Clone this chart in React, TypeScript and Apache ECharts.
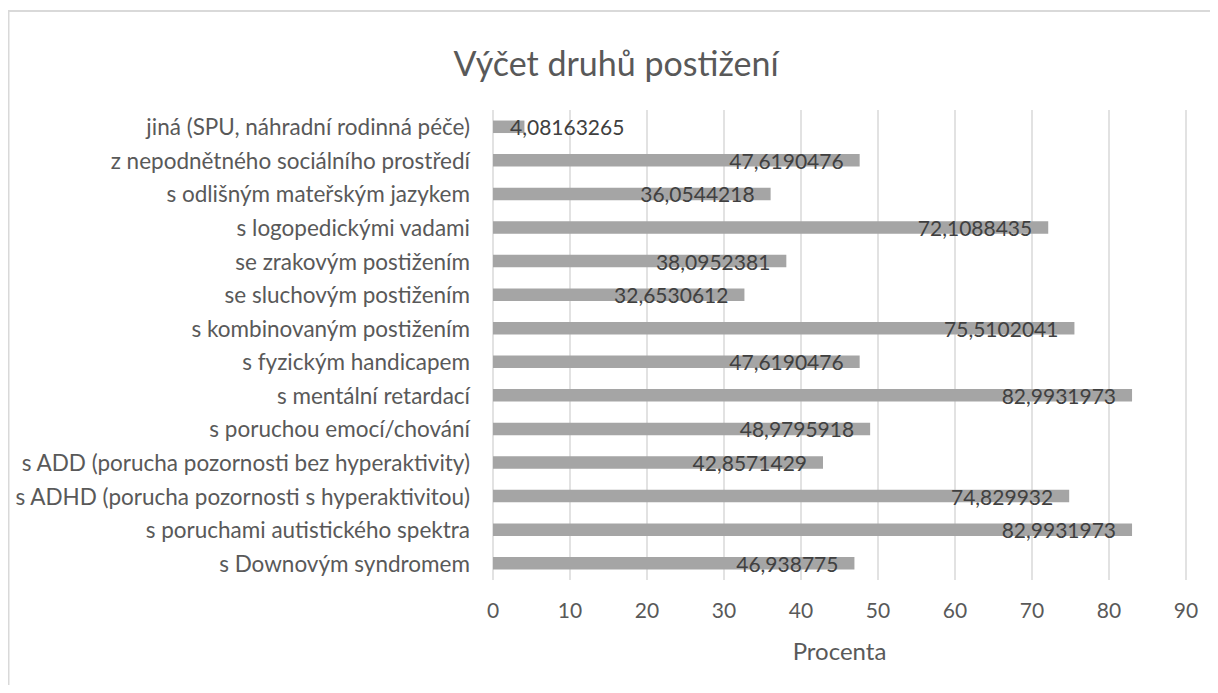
import React, { useEffect, useRef } from "react";
import * as echarts from "echarts";

const categories = [
  "s Downovým syndromem",
  "s poruchami autistického spektra",
  "s ADHD (porucha pozornosti s hyperaktivitou)",
  "s ADD (porucha pozornosti bez hyperaktivity)",
  "s poruchou emocí/chování",
  "s mentální retardací",
  "s fyzickým handicapem",
  "s kombinovaným postižením",
  "se sluchovým postižením",
  "se zrakovým postižením",
  "s logopedickými vadami",
  "s odlišným mateřským jazykem",
  "z nepodnětného sociálního prostředí",
  "jiná (SPU, náhradní rodinná péče)",
];

const values = [
  46.938775, 82.9931973, 74.829932, 42.8571429, 48.9795918, 82.9931973,
  47.6190476, 75.5102041, 32.6530612, 38.0952381, 72.1088435, 36.0544218,
  47.6190476, 4.08163265,
];

const titleText = "Výčet druhů postižení";
const axisName = "Procenta";
const xMin = 0;
const xMax = 90;
const xInterval = 10;

const FONT = "Lato";

export default function App() {
  const ref = useRef<HTMLDivElement>(null);

  useEffect(() => {
    if (!ref.current) return;
    const chart = echarts.init(ref.current, undefined, { renderer: "svg" });
    const fmt = (v: number) => String(v).replace(".", ",");
    chart.setOption({
      animation: false,
      backgroundColor: "#ffffff",
      textStyle: { fontFamily: FONT },
      graphic: [
        {
          type: "rect",
          shape: { x: 0.5, y: 3, width: 1400, height: 1000 },
          style: { fill: "none", stroke: "#d9d9d9", lineWidth: 2 },
          silent: true,
        },
        {
          type: "text",
          x: 608,
          y: 54,
          style: {
            text: titleText,
            fontFamily: FONT,
            fontSize: 34,
            fill: "#595959",
            align: "center",
            verticalAlign: "middle",
          },
        },
      ],
      grid: { left: 485, right: 24, top: 102, bottom: 105, containLabel: false },
      xAxis: {
        type: "value",
        min: xMin,
        max: xMax,
        interval: xInterval,
        name: axisName,
        nameLocation: "middle",
        nameGap: 58,
        nameTextStyle: { color: "#595959", fontSize: 24, fontFamily: FONT },
        axisLine: { show: false },
        axisTick: { show: false },
        axisLabel: { color: "#595959", fontSize: 21, fontFamily: FONT, margin: 19 },
        splitLine: { show: true, lineStyle: { color: "#d9d9d9", width: 1.5 } },
      },
      yAxis: {
        type: "category",
        data: categories,
        axisLine: { show: false },
        axisTick: { show: false },
        axisLabel: { color: "#595959", fontSize: 22.5, fontFamily: FONT, margin: 23 },
        splitLine: { show: false },
      },
      series: [
        {
          type: "bar",
          barWidth: 12.5,
          itemStyle: { color: "#a5a5a5" },
          data: values.map((v) =>
            v < 20
              ? { value: v, label: { position: "insideLeft", distance: 17 } }
              : v
          ),
          label: {
            show: true,
            position: "insideRight",
            distance: 16,
            color: "#404040",
            fontSize: 21,
            fontFamily: FONT,
            formatter: (p: any) => fmt(p.value),
          },
        },
      ],
    });
    return () => chart.dispose();
  }, []);

  return <div ref={ref} style={{ width: 1202, height: 677 }} />;
}
